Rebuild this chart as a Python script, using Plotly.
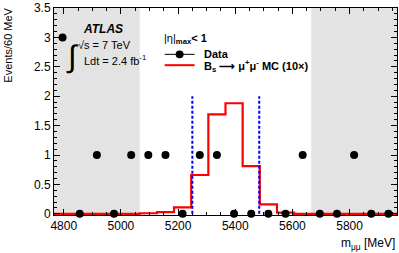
import plotly.graph_objects as go

# ---- data ----
bin_centers = [4796, 4856, 4916, 4976, 5036, 5096, 5156, 5216, 5276, 5336,
               5396, 5456, 5516, 5576, 5636, 5696, 5756, 5816, 5876, 5936]
bin_edges = [4766, 4826, 4886, 4946, 5006, 5066, 5126, 5186, 5246, 5306, 5366,
             5426, 5486, 5546, 5606, 5666, 5726, 5786, 5846, 5906, 5966]
data_counts = [3, 0, 1, 0, 1, 1, 1, 0, 1, 1, 0, 0, 0, 0, 1, 0, 0, 1, 0, 0]
mc_signal_x10 = [0, 0, 0, 0, 0, 0.01, 0.03, 0.11, 0.66, 1.69,
                 1.88, 0.81, 0.16, 0.02, 0, 0, 0, 0, 0, 0]
sidebands = [(4766, 5066), (5666, 5966)]
signal_window = [5250, 5484]
signal_window_height = 2.0
x_range = [4766, 5966]
y_range = [-0.02, 3.5]

# ---- layout geometry helpers ----
W, H = 399, 253
ML, MR, MT, MB = 54, 1, 5, 38
PW, PH = W - ML - MR, H - MT - MB


def px(x):
    return (x - ML) / PW


def py(y):
    return (MT + PH - y) / PH


FONT = "Liberation Sans, Arial, Helvetica, sans-serif"

fig = go.Figure()

# MC histogram (step)
fig.add_trace(go.Scatter(
    x=bin_edges, y=mc_signal_x10 + [mc_signal_x10[-1]],
    mode="lines", line=dict(color="#ff0000", width=2.2, shape="hv"),
    showlegend=False, hoverinfo="skip"))

# data points
fig.add_trace(go.Scatter(
    x=bin_centers, y=data_counts, mode="markers",
    marker=dict(color="black", size=8, symbol="circle"),
    cliponaxis=False, showlegend=False))

shapes = []
for lo, hi in sidebands:
    shapes.append(dict(type="rect", xref="x", yref="paper", x0=lo, x1=hi,
                       y0=0, y1=1, fillcolor="#e3e3e3", line=dict(width=0),
                       layer="below"))
for xv in signal_window:
    shapes.append(dict(type="line", xref="x", yref="y", x0=xv, x1=xv,
                       y0=0, y1=signal_window_height,
                       line=dict(color="#0000ff", width=2, dash="3px,2px")))

# legend decorations
shapes.append(dict(type="line", xref="paper", yref="paper",
                   x0=px(165), x1=px(195), y0=py(52), y1=py(52),
                   line=dict(color="black", width=1)))
shapes.append(dict(type="circle", xref="paper", yref="paper",
                   x0=px(176), x1=px(184), y0=py(56), y1=py(48),
                   fillcolor="black", line=dict(color="black", width=0)))
shapes.append(dict(type="line", xref="paper", yref="paper",
                   x0=px(165), x1=px(195), y0=py(63), y1=py(63),
                   line=dict(color="#ff0000", width=2)))

ann = []


def add_text(text, x, y, size=11, xanchor="left", yanchor="middle", angle=0):
    ann.append(dict(text=text, x=px(x), y=py(y), xref="paper", yref="paper",
                    xanchor=xanchor, yanchor=yanchor, showarrow=False,
                    textangle=angle, font=dict(size=size, color="black", family=FONT)))


add_text("<b><i>ATLAS</i></b>", 81, 26, size=12)
add_text("√s = 7 TeV", 76, 43, size=11)
add_text("∫", 64, 54, size=31)
add_text("Ldt = 2.4 fb<sup>-1</sup>", 82, 58, size=11)
add_text("|η|<b><sub>max</sub>&lt; 1</b>", 162, 36, size=11)
add_text("<b>Data</b>", 202, 52, size=11)
add_text("<b>B<sub>s</sub> ⟶ μ<sup>+</sup>μ<sup>-</sup> MC (10×)</b>", 202, 64, size=11)

# axis titles
ann.append(dict(text="Events/60 MeV", x=px(7), y=py(3), xref="paper", yref="paper",
                xanchor="center", yanchor="top", showarrow=False, textangle=-90,
                font=dict(size=11, color="black", family=FONT)))
ann.append(dict(text="m<sub>μμ</sub> [MeV]", x=px(398), y=py(244), xref="paper",
                yref="paper", xanchor="right", yanchor="middle", showarrow=False,
                font=dict(size=12, color="black", family=FONT)))

axis_common = dict(showline=True, linecolor="black", linewidth=1, mirror="allticks",
                   ticks="inside", ticklen=6, tickwidth=1, tickcolor="black",
                   showgrid=False, zeroline=False, ticklabeloverflow="allow",
                   tickfont=dict(size=12, color="black", family=FONT))

fig.update_layout(
    width=W, height=H,
    margin=dict(l=ML, r=MR, t=MT, b=MB, pad=0),
    paper_bgcolor="white", plot_bgcolor="white",
    font=dict(family=FONT, size=12, color="black"),
    shapes=shapes, annotations=ann, showlegend=False,
    xaxis=dict(range=x_range, dtick=200, tick0=0,
               minor=dict(dtick=50, ticks="inside", ticklen=3, tickcolor="black", showgrid=False),
               **axis_common),
    yaxis=dict(range=y_range, dtick=0.5, tick0=0,
               minor=dict(dtick=0.1, ticks="inside", ticklen=3, tickcolor="black", showgrid=False),
               **axis_common),
)

fig.write_html("out.html", config={"displayModeBar": False},
               post_script="document.body.style.margin='0';document.body.style.overflow='hidden';")
